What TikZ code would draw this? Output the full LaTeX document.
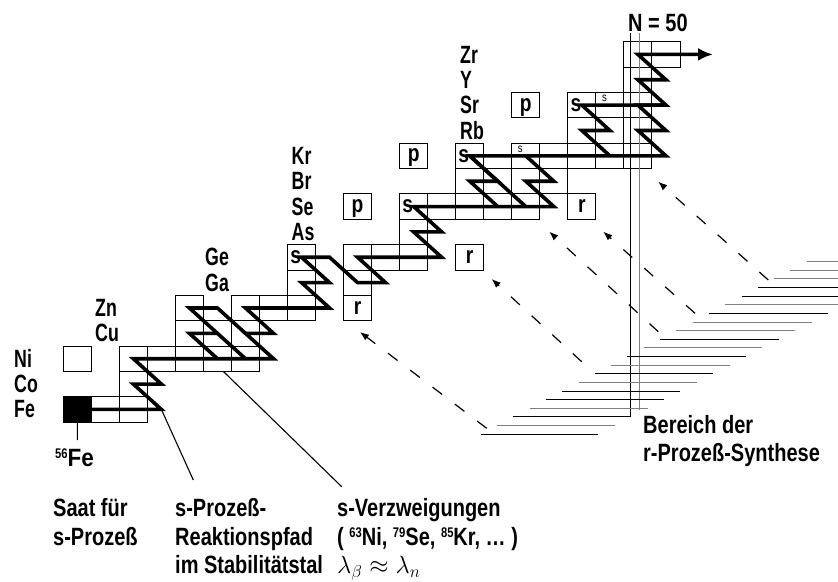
\documentclass[tikz,border=0pt]{standalone}
\usepackage{fontspec}
\setmainfont[FakeStretch=0.8]{Liberation Sans}
\newfontfamily\elemfont[FakeStretch=0.71]{Liberation Sans}
\newfontfamily\widefont[FakeStretch=0.9]{Liberation Sans}
\usetikzlibrary{arrows.meta}
\newcommand\isosup[1]{\raisebox{8pt}{\fontsize{14}{14}\selectfont #1}}

\tikzset{
  ongrid/.style={shift={(-763.6pt,-1068.8pt)},x=28.03pt,y=25.36pt},
  cell/.style={draw=black,line width=0.9pt},
  seed/.style={fill=black,draw=black,line width=0.9pt},
  spath/.style={line width=3.6pt,line join=miter,miter limit=4},
  elem/.style={anchor=west,inner sep=0pt,font=\elemfont\bfseries\fontsize{25}{28}\selectfont},
  caption/.style={anchor=base west,inner sep=0pt,font=\bfseries\fontsize{25}{28.3}\selectfont},
  tag/.style={anchor=base,inner sep=0pt,font=\bfseries\fontsize{24}{24}\selectfont},
  stag/.style={anchor=west,inner sep=0pt,font=\bfseries\fontsize{24}{24}\selectfont},
  smalls/.style={anchor=north west,inner sep=0pt,font=\fontsize{12}{12}\selectfont},
  callout/.style={line width=1.1pt},
  rflow/.style={line width=1.2pt,dash pattern=on 12pt off 16pt,-{Latex[length=9pt,width=7pt]}},
  magic/.style={line width=0.9pt},
}

\begin{document}
\begin{tikzpicture}[x=1pt,y=-1pt]
\useasboundingbox (0,0) rectangle (838,581);
\fill[white] (0,0) rectangle (838,581);

% ---------- nuclide grid: cell (N,Z) is centred on (N,Z) ----------
\begin{scope}[ongrid]
  \foreach \n in {29,...,53}
    \foreach \z in {25,...,41}
      \coordinate (n\n z\z) at (\n,\z);
  \coordinate (zrout) at (52.68,40);
  \coordinate (tickTop) at (30,25.5);
  \coordinate (verzStart) at (35.21,27.5);

  % stable and path nuclides
  \foreach \n/\z in {31/26,32/26,32/27,30/28,32/28,33/28,34/28,35/28,36/28,
                     34/29,35/29,36/29,34/30,36/30,37/30,38/30,38/31,40/31,
                     38/32,40/32,41/32,42/32,42/33,42/34,43/34,44/34,45/34,46/34,
                     44/35,45/35,46/35,47/35,44/36,46/36,47/36,48/36,49/36,50/36,
                     48/37,49/37,50/37,48/38,49/38,50/38,50/39,50/40,51/40}
    \draw[cell] (\n-0.5,\z-0.5) rectangle (\n+0.5,\z+0.5);

  % p-only and r-only nuclides
  \foreach \n/\z in {40/34,42/36,46/38,40/30,44/32,48/34}
    \draw[cell] (\n-0.5,\z-0.5) rectangle (\n+0.5,\z+0.5);
\end{scope}

% ---------- magic neutron number N = 50 ----------
\draw[magic] (630,33) -- (630,416.7);
\draw[magic,draw=black!50] (639.3,33) -- (639.3,410);

\begin{scope}[ongrid]
  % s-process reaction path
  \draw[spath] (n30z26) -- (n33z26) -- (n32z27) -- (n33z27) -- (n32z28)
    -- (n37z28) -- (n36z29) -- (n37z29) -- (n36z30) -- (n39z30) -- (n38z31)
    -- (n39z31) -- (n38z32) -- (n39z32) -- (n40z31) -- (n41z31) -- (n40z32)
    -- (n43z32) -- (n42z33) -- (n43z33) -- (n42z34) -- (n47z34) -- (n46z35)
    -- (n47z35) -- (n46z36);
  % branchings at 63Ni, 64Cu and 65Zn
  \draw[spath] (n35z28) -- (n34z29) -- (n35z29);
  \draw[spath] (n36z28) -- (n34z30) -- (n35z30) -- (n36z29);
  % branchings at 79Se and 80Br
  \draw[spath] (n46z34) -- (n44z36);
  \draw[spath] (n49z36) -- (n48z37) -- (n49z37) -- (n48z38) -- (n51z38);
  \draw[spath,-{Latex[length=15pt,width=13pt]}] (n45z34) -- (n44z35)
    -- (n45z35) -- (n44z36) -- (n51z36) -- (n50z37) -- (n51z37) -- (n50z38)
    -- (n51z38) -- (n50z39) -- (n51z39) -- (n50z40) -- (zrout);

  % seed nucleus 56Fe
  \draw[seed] (29.5,25.5) rectangle (30.5,26.5);

  % element names
  \node[elem] (lNi) at (27.742,28) {Ni};
  \node[elem] (lCo) at (27.742,27) {Co};
  \node[elem] (lFe) at (27.742,26) {Fe};
  \node[elem] (lZn) at (30.632,30) {Zn};
  \node[elem] (lCu) at (30.632,29) {Cu};
  \node[elem] (lGe) at (34.556,32) {Ge};
  \node[elem] (lGa) at (34.556,31) {Ga};
  \node[elem] (lKr) at (37.642,36) {Kr};
  \node[elem] (lBr) at (37.642,35) {Br};
  \node[elem] (lSe) at (37.642,34) {Se};
  \node[elem] (lAs) at (37.642,33) {As};
  \node[elem] (lZr) at (43.653,40) {Zr};
  \node[elem] (lY)  at (43.653,39) {Y};
  \node[elem] (lSr) at (43.653,38) {Sr};
  \node[elem] (lRb) at (43.653,37) {Rb};

  % s-only marks
  \node[stag] (sGe) at (37.59,32) {s};
  \node[stag] (sSe) at (41.59,34) {s};
  \node[stag] (sKrA) at (43.59,36) {s};
  \node[stag] (sSrA) at (47.59,38) {s};
  \node[smalls] (sKrB) at (45.714,36.4) {s};
  \node[smalls] (sSrB) at (48.714,38.4) {s};

  % p-only and r-only marks
  \node[tag] (pSe) at (40,33.763) {p};
  \node[tag] (pKr) at (42,35.763) {p};
  \node[tag] (pSr) at (46,37.763) {p};
  \node[tag] (rZn) at (40,29.763) {r};
  \node[tag] (rGe) at (44,31.763) {r};
  \node[tag] (rSe) at (48,33.763) {r};
\end{scope}

% ---------- r-process region ----------
\foreach \i/\c in {0/50,1/50,2/50,3/100,4/100,5/50,6/100,7/50,8/50,9/100,10/50,
                   11/100,12/50,13/100,14/50,15/100,16/100,17/50,18/100,19/50,20/100}{
  \pgfmathsetmacro\yy{261.7+8.62*\i}
  \pgfmathsetmacro\xl{806.7-16.3*\i}
  \pgfmathsetmacro\xr{min(838,926.4-16.4*\i)}
  \draw[line width=0.9pt,draw=black!\c] (\xl,\yy) -- (\xr,\yy);
}

\coordinate (ra1) at (768.3,280);   \coordinate (rb1) at (658.3,181.7);
\coordinate (ra2) at (695,313.3);   \coordinate (rb2) at (603.3,231.7);
\coordinate (ra3) at (658.3,331.7); \coordinate (rb3) at (549.3,231.7);
\coordinate (ra4) at (581.7,361.7); \coordinate (rb4) at (491.7,279);
\coordinate (ra5) at (486.7,428.3); \coordinate (rb5) at (360,332);
\draw[rflow] (ra1) -- (rb1);
\draw[rflow] (ra2) -- (rb2);
\draw[rflow] (ra3) -- (rb3);
\draw[rflow] (ra4) -- (rb4);
\draw[rflow] (ra5) -- (rb5);

% ---------- captions ----------
\node[caption] (nfifty) at (628,31.7) {N = 50};
\node[caption] (ber1) at (643,433.3) {Bereich der};
\node[caption] (ber2) at (643,461.6) {r-Prozeß-Synthese};

\coordinate (tickEnd) at (77.3,440);
\draw[callout] (tickTop) -- (tickEnd);
\node[caption] (fe56) at (55,466.7) {\isosup{56}{\widefont\bfseries Fe}};

\coordinate (pfadEnd) at (193.3,480);
\draw[callout] (n33z26) -- (pfadEnd);
\coordinate (verzEnd) at (341.7,486.7);
\draw[callout] (verzStart) -- (verzEnd);

\node[caption] (saat1) at (53,516.7) {Saat für};
\node[caption] (saat2) at (53,545) {s-Prozeß};
\node[caption] (pfad1) at (175,516.7) {s-Prozeß-};
\node[caption] (pfad2) at (175,545) {Reaktionspfad};
\node[caption] (pfad3) at (175,573.3) {im Stabilitätstal};
\node[caption] (verz1) at (337,516.7) {s-Verzweigungen};
\node[caption] (verz2) at (337,545) {( \isosup{63}Ni, \isosup{79}Se, \isosup{85}Kr, … )};
\node[caption] (verz3) at (337,573.3) {$\lambda_\beta\approx\lambda_n$};
\end{tikzpicture}
\end{document}
